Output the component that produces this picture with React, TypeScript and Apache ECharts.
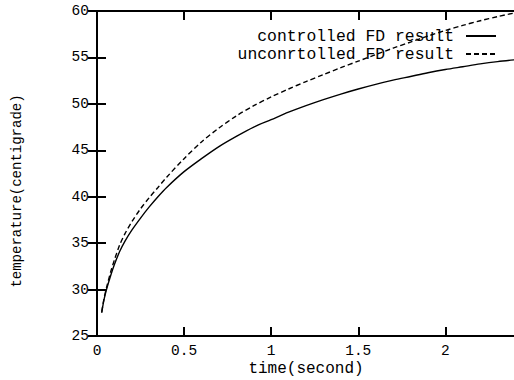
import React, { useEffect, useRef } from "react";
import * as echarts from "echarts";

const timeValues = [0.027, 0.04, 0.056, 0.08, 0.1, 0.13, 0.16, 0.2, 0.25, 0.3, 0.35, 0.4, 0.5, 0.6, 0.7, 0.8, 0.9, 1.0, 1.1, 1.2, 1.3, 1.4, 1.5, 1.6, 1.7, 1.8, 1.9, 2.0, 2.1, 2.2, 2.3, 2.4];
const controlledFD = [27.5, 28.9, 30.1, 31.6, 32.7, 34.1, 35.2, 36.4, 37.7, 38.9, 40.0, 41.0, 42.7, 44.1, 45.4, 46.5, 47.5, 48.3, 49.1, 49.8, 50.45, 51.05, 51.6, 52.1, 52.55, 52.95, 53.35, 53.7, 54.0, 54.3, 54.55, 54.75];
const uncontrolledFD = [27.6, 29.0, 30.3, 32.0, 33.2, 34.8, 36.0, 37.3, 38.7, 39.9, 41.0, 42.1, 44.1, 45.9, 47.4, 48.7, 49.8, 50.75, 51.6, 52.4, 53.15, 53.9, 54.6, 55.3, 56.0, 56.65, 57.3, 57.9, 58.45, 58.95, 59.4, 59.8];
const seriesNames = ["controlled FD result", "unconrtolled FD result"];
const xName = "time(second)";
const yName = "temperature(centigrade)";

const FONT = "'Liberation Mono', 'DejaVu Sans Mono', monospace";

export default function App() {
  const ref = useRef<HTMLDivElement>(null);
  useEffect(() => {
    if (!ref.current) return;
    const chart = echarts.init(ref.current, null, { renderer: "svg" });
    const axisLine = { show: true, lineStyle: { color: "#000", width: 2 } };
    const axisTick = { show: true, inside: true, length: 9, lineStyle: { color: "#000", width: 2 } };
    const labelStyle = { fontFamily: FONT, fontSize: 14.5, color: "#000", lineHeight: 14 };
    chart.setOption({
      animation: false,
      backgroundColor: "#fff",
      grid: { left: 97, top: 11, right: -1, bottom: 44, containLabel: false, outerBoundsMode: "none" },
      legend: {
        orient: "vertical",
        right: 12,
        top: 23,
        align: "right",
        itemWidth: 30,
        itemHeight: 12,
        itemGap: 2,
        itemStyle: { color: "rgba(0,0,0,0)", borderColor: "rgba(0,0,0,0)", borderWidth: 0 },
        textStyle: { fontFamily: FONT, fontSize: 16.4, color: "#000", padding: [0, 7, 0, 0], lineHeight: 14 },
        data: seriesNames,
      },
      graphic: [
        {
          type: "text",
          x: 17,
          y: 191,
          rotation: Math.PI / 2,
          style: { text: yName, fontFamily: FONT, fontSize: 14, fill: "#000", align: "center", verticalAlign: "middle" },
        },
      ],
      xAxis: [
        {
          type: "value",
          position: "bottom",
          min: 0,
          max: 2.4,
          interval: 0.5,
          name: xName,
          nameLocation: "middle",
          nameGap: 26,
          nameMoveOverlap: false,
          nameTextStyle: { fontFamily: FONT, fontSize: 16, color: "#000", verticalAlign: "top", lineHeight: 14 },
          axisLine,
          axisTick,
          splitLine: { show: false },
          axisLabel: { ...labelStyle, margin: 8, showMaxLabel: false, formatter: (v: number) => String(v) },
        },
        {
          type: "value",
          position: "top",
          min: 0,
          max: 2.4,
          interval: 0.5,
          axisLine,
          axisTick,
          splitLine: { show: false },
          axisLabel: { show: false },
        },
      ],
      yAxis: [
        {
          type: "value",
          position: "left",
          min: 25,
          max: 60,
          interval: 5,
          axisLine,
          axisTick,
          splitLine: { show: false },
          axisLabel: { ...labelStyle, margin: 8 },
        },
        {
          type: "value",
          position: "right",
          min: 25,
          max: 60,
          interval: 5,
          axisLine,
          axisTick,
          splitLine: { show: false },
          axisLabel: { show: false },
        },
      ],
      series: [
        {
          name: seriesNames[0],
          type: "line",
          xAxisIndex: 0,
          yAxisIndex: 0,
          symbol: "none",
          smooth: 0.3,
          lineStyle: { color: "#000", width: 1.4, type: "solid" },
          itemStyle: { color: "#000" },
          data: timeValues.map((t, i) => [t, controlledFD[i]]),
        },
        {
          name: seriesNames[1],
          type: "line",
          xAxisIndex: 0,
          yAxisIndex: 0,
          symbol: "none",
          smooth: 0.3,
          lineStyle: { color: "#000", width: 1.4, type: [5, 3] },
          itemStyle: { color: "#000" },
          data: timeValues.map((t, i) => [t, uncontrolledFD[i]]),
        },
      ],
    });
    return () => chart.dispose();
  }, []);
  return <div ref={ref} style={{ width: 514, height: 380, position: "absolute", left: 0, top: 0 }} />;
}
